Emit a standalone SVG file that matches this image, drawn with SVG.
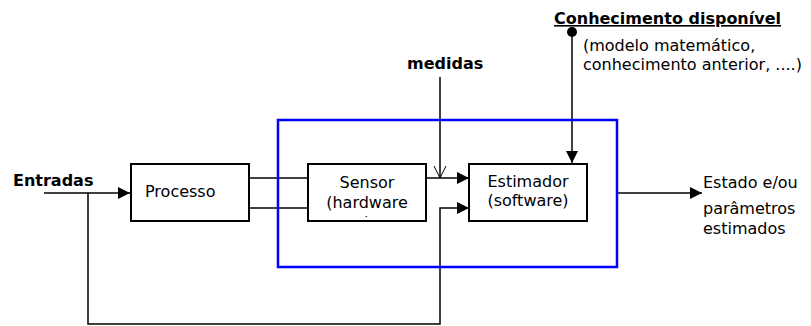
<svg xmlns="http://www.w3.org/2000/svg" width="811" height="326" viewBox="0 0 811 326">
<style>
text{font-family:"DejaVu Sans",Verdana,sans-serif;font-size:16px;fill:#000}
.b{font-weight:bold}
.box{fill:#fff;stroke:#000;stroke-width:2}
.ln{fill:none;stroke:#000;stroke-width:1.5}
</style>
<defs>
<marker id="ah" markerWidth="12" markerHeight="12" refX="12" refY="6" orient="auto" markerUnits="userSpaceOnUse">
<path d="M0,0 L12,6 L0,12 Z" fill="#000"/>
</marker>
<clipPath id="sc"><rect x="309" y="164" width="116" height="53"/></clipPath>
</defs>
<rect width="811" height="326" fill="#fff"/>
<g id="connectors">
<path class="ln" d="M44,193 H130" marker-end="url(#ah)"/>
<path class="ln" d="M88,193 V324 H440 V208 H469" marker-end="url(#ah)"/>
<path class="ln" d="M249,178 H308"/>
<path class="ln" d="M249,208 H308"/>
<path class="ln" d="M426,178 H469" marker-end="url(#ah)"/>
<path class="ln" d="M440,77 V178" stroke-width="1"/>
<path fill="none" stroke="#000" stroke-width="1" d="M434,166 L440,178 L446,166"/>
<path class="ln" d="M572,32 V163" marker-end="url(#ah)"/>
<circle cx="572" cy="32" r="5" fill="#000"/>
<path class="ln" d="M617,193 H702" marker-end="url(#ah)"/>
</g>
<g id="boundary">
<rect x="278" y="120" width="339" height="147" fill="none" stroke="#0000ff" stroke-width="2.5"/>
</g>
<g id="processo">
<rect class="box" x="131" y="164" width="118" height="57"/>
<text x="145" y="197">Processo</text>
</g>
<g id="sensor">
<rect class="box" x="308" y="164" width="118" height="57"/>
<text x="367" y="188" text-anchor="middle">Sensor</text>
<text x="367" y="208" text-anchor="middle">(hardware</text>
<text x="367" y="228" text-anchor="middle" clip-path="url(#sc)">)</text>
</g>
<g id="estimador">
<rect class="box" x="469" y="164" width="118" height="57"/>
<text x="528" y="187" text-anchor="middle">Estimador</text>
<text x="528" y="206" text-anchor="middle">(software)</text>
</g>
<g id="labels">
<text class="b" x="13" y="186">Entradas</text>
<text class="b" x="407" y="69">medidas</text>
<text class="b" x="554" y="24" text-decoration="underline">Conhecimento disponível</text>
<text x="583" y="51">(modelo matemático,</text>
<text x="583" y="70">conhecimento anterior, ....)</text>
<text x="703" y="188">Estado e/ou</text>
<text x="703" y="214">parâmetros</text>
<text x="703" y="234">estimados</text>
</g>
</svg>
